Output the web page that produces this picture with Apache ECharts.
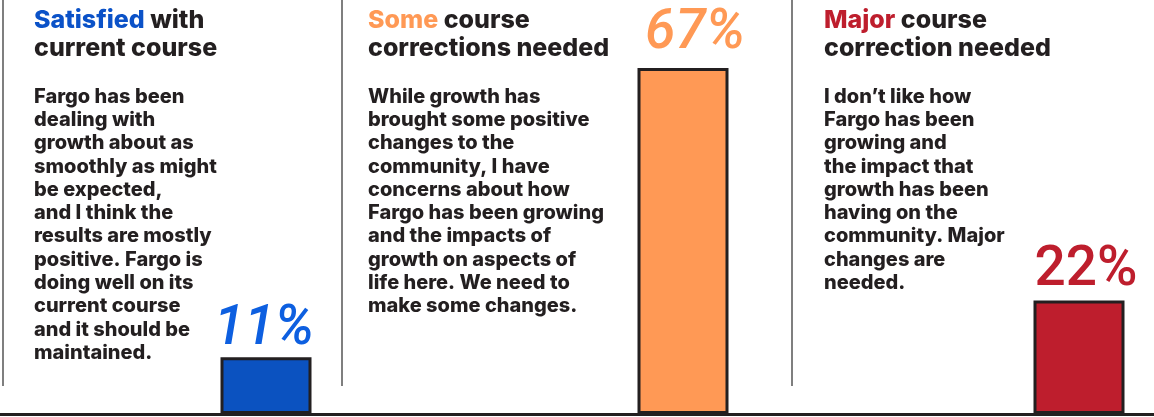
<!DOCTYPE html>
<html>
<head>
<meta charset="utf-8">
<script src="https://cdn.jsdelivr.net/npm/echarts@6/dist/echarts.min.js"></script>
<style>
  html, body { margin: 0; padding: 0; background: #fff; }
  #container { width: 1154px; height: 417px; }
</style>
</head>
<body>
<div id="container"></div>
<script>
var categories = ['Satisfied with current course', 'Some course corrections needed', 'Major course correction needed'];
var values = [11, 67, 22];
var labels = ['11%', '67%', '22%'];
var barColors = ['#0b52c0', '#ff9955', '#be1e2d'];
var labelColors = ['#0d5fe0', '#ff9955', '#be1e2d'];
var titleKeys = ['Satisfied', 'Some', 'Major'];
var titleRest = [' with\ncurrent course', ' course\ncorrections needed', ' course\ncorrection needed'];
var bodies = [
    'Fargo has been\ndealing with\ngrowth about as\nsmoothly as might\nbe expected,\nand I think the\nresults are mostly\npositive. Fargo is\ndoing well on its\ncurrent course\nand it should be\nmaintained.',
    'While growth has\nbrought some positive\nchanges to the\ncommunity, I have\nconcerns about how\nFargo has been growing\nand the impacts of\ngrowth on aspects of\nlife here. We need to\nmake some changes.',
    'I don\u2019t like how\nFargo has been\ngrowing and\nthe impact that\ngrowth has been\nhaving on the\ncommunity. Major\nchanges are\nneeded.'
];

var dom = document.getElementById('container');
var myChart = echarts.init(dom);

var FONT = 'Inter, Roboto, sans-serif';
var NUMFONT = 'Roboto, sans-serif';
var ink = '#231f20';

// one grid per panel so the bars sit where the panels put them
var gridDefs = [
    { left: 0, width: 532 },
    { left: 532, width: 302 },
    { left: 1004, width: 150 }
];
var textX = [34, 368, 824];
var sepX = [3, 342, 792];
var labelShift = [[-2, 7], [12, 0], [7, 4]];

var grids = [], xAxes = [], yAxes = [], series = [], graphics = [];
// baseline across the whole picture
graphics.push({
    type: 'line', shape: { x1: 0, y1: 414.5, x2: 1154, y2: 414.5 },
    style: { stroke: ink, lineWidth: 3 }, z: 100
});
for (var i = 0; i < 3; i++) {
    grids.push({ left: gridDefs[i].left, width: gridDefs[i].width, top: 1, bottom: 3 });
    xAxes.push({
        type: 'category', gridIndex: i, data: [categories[i]],
        axisLine: { show: false },
        axisTick: { show: false }, axisLabel: { show: false }
    });
    yAxes.push({ type: 'value', gridIndex: i, min: 0, max: 80, show: false, splitLine: { show: false } });
    series.push({
        type: 'bar', xAxisIndex: i, yAxisIndex: i, barWidth: 91,
        data: [values[i]],
        itemStyle: { color: barColors[i], borderColor: ink, borderWidth: 3 },
        label: {
            show: true, position: 'top', distance: 6,
            formatter: labels[i],
            color: labelColors[i], fontFamily: NUMFONT, fontSize: 55,
            fontWeight: 500, fontStyle: i === 2 ? 'normal' : 'italic',
            offset: labelShift[i]
        },
        silent: true
    });
    graphics.push({
        type: 'line', shape: { x1: sepX[i], y1: 0, x2: sepX[i], y2: 386 },
        style: { stroke: '#555', lineWidth: 1.5 }
    });
    graphics.push({
        type: 'text', left: textX[i], top: 6,
        style: {
            text: '{k|' + titleKeys[i] + '}' + titleRest[i],
            fill: ink, font: '800 25px ' + FONT, lineHeight: 28,
            rich: { k: { fill: i === 0 ? '#0b52c8' : barColors[i], font: '800 25px ' + FONT, lineHeight: 28 } }
        }
    });
    graphics.push({
        type: 'text', left: textX[i], top: 85,
        style: { text: bodies[i], fill: ink, font: '800 20px ' + FONT, lineHeight: 23.3 }
    });
}

option = {
    backgroundColor: '#fff',
    animation: false,
    grid: grids,
    xAxis: xAxes,
    yAxis: yAxes,
    series: series,
    graphic: graphics
};
myChart.setOption(option);

window.addEventListener("resize", function () {
    myChart.resize();
});
</script>
</body>
</html>
